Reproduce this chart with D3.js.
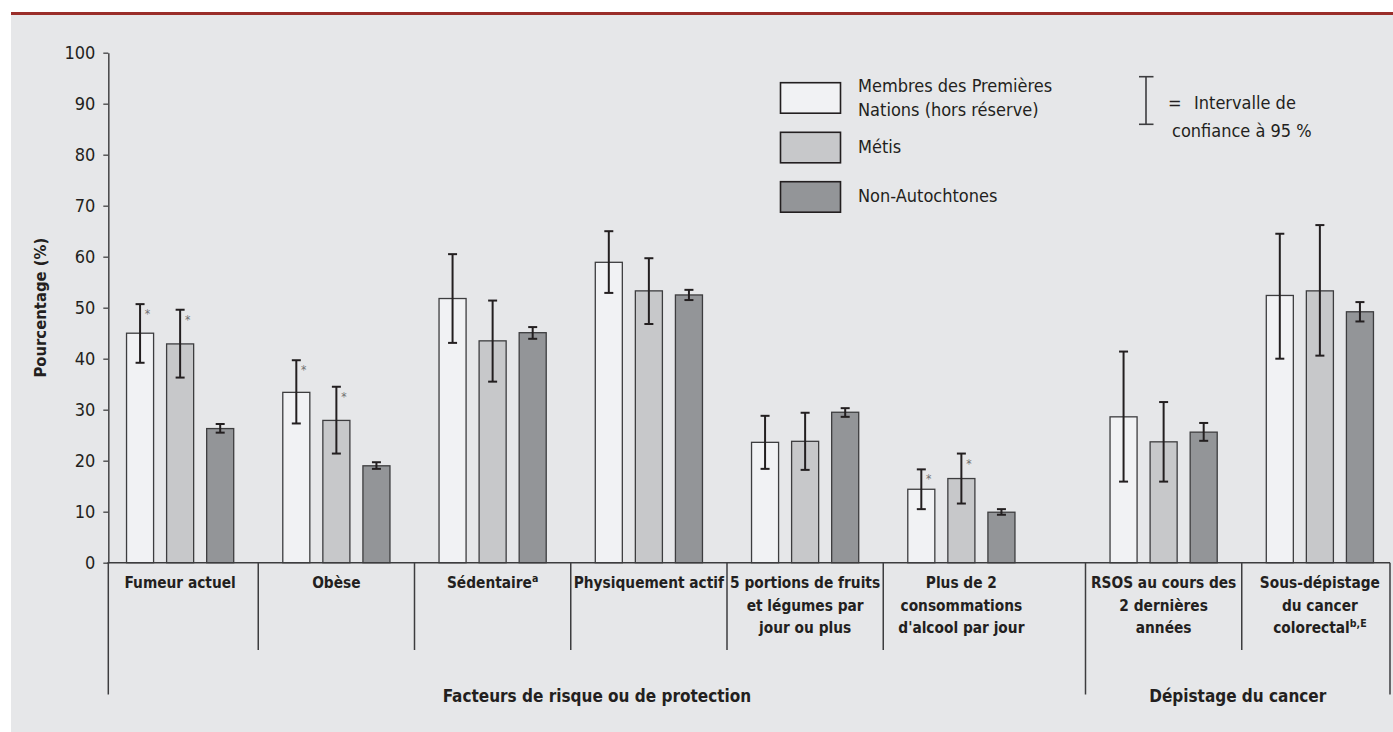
<!DOCTYPE html>
<html lang="fr">
<head>
<meta charset="utf-8">
<script src="https://cdn.jsdelivr.net/npm/d3@7"></script>
<style>
  html, body { margin: 0; padding: 0; background: #ffffff; }
  svg { display: block; }
  text { font-family: "DejaVu Sans Condensed", "DejaVu Sans", sans-serif; font-stretch: condensed; fill: #231f20; }
</style>
</head>
<body>
<svg id="chart" width="1393" height="732"></svg>
<script>
// ---- Data -------------------------------------------------------------
const categories = [
  "Fumeur actuel", "Obèse", "Sédentaire", "Physiquement actif",
  "5 portions de fruits et légumes par jour ou plus",
  "Plus de 2 consommations d'alcool par jour",
  "RSOS au cours des 2 dernières années",
  "Sous-dépistage du cancer colorectal"
];
const categoryLines = [
  ["Fumeur actuel"], ["Obèse"], ["Sédentaire"], ["Physiquement actif"],
  ["5 portions de fruits", "et légumes par", "jour ou plus"],
  ["Plus de 2", "consommations", "d'alcool par jour"],
  ["RSOS au cours des", "2 dernières", "années"],
  ["Sous-dépistage", "du cancer", "colorectal"]
];
const categoryNotes = ["", "", "a", "", "", "", "", "b,E"];
const categorySection = [0, 0, 0, 0, 0, 0, 1, 1];
const sections = ["Facteurs de risque ou de protection", "Dépistage du cancer"];

const seriesNames = ["Membres des Premières Nations (hors réserve)", "Métis", "Non-Autochtones"];
const seriesLegendLines = [["Membres des Premières", "Nations (hors réserve)"], ["Métis"], ["Non-Autochtones"]];

const firstNations     = [45.0, 33.4, 51.8, 58.9, 23.6, 14.4, 28.6, 52.4];
const firstNationsLow  = [39.2, 27.3, 43.1, 52.9, 18.4, 10.5, 15.9, 40.0];
const firstNationsHigh = [50.7, 39.7, 60.5, 65.0, 28.8, 18.3, 41.4, 64.5];
const firstNationsSig  = [true, true, false, false, false, true, false, false];

const metis     = [42.9, 27.9, 43.5, 53.3, 23.8, 16.5, 23.7, 53.3];
const metisLow  = [36.3, 21.4, 35.5, 46.8, 18.2, 11.6, 15.9, 40.6];
const metisHigh = [49.6, 34.5, 51.4, 59.7, 29.4, 21.4, 31.5, 66.2];
const metisSig  = [true, true, false, false, false, true, false, false];

const nonAboriginal     = [26.3, 19.0, 45.1, 52.5, 29.5, 9.9, 25.6, 49.2];
const nonAboriginalLow  = [25.5, 18.4, 43.9, 51.5, 28.6, 9.4, 23.9, 47.3];
const nonAboriginalHigh = [27.2, 19.7, 46.2, 53.5, 30.3, 10.5, 27.4, 51.1];
const nonAboriginalSig  = [false, false, false, false, false, false, false, false];

const yTicks = [0, 10, 20, 30, 40, 50, 60, 70, 80, 90, 100];

// ---- Table built from the arrays -------------------------------------
const seriesValues = [firstNations, metis, nonAboriginal];
const seriesLow = [firstNationsLow, metisLow, nonAboriginalLow];
const seriesHigh = [firstNationsHigh, metisHigh, nonAboriginalHigh];
const seriesSig = [firstNationsSig, metisSig, nonAboriginalSig];
const rows = [];
categories.forEach((c, i) => {
  seriesNames.forEach((s, j) => {
    rows.push({ cat: c, series: s, value: seriesValues[j][i],
                low: seriesLow[j][i], high: seriesHigh[j][i], sig: seriesSig[j][i] });
  });
});

// ---- Styling ---------------------------------------------------------
const fills = ["#f1f2f4", "#c7c8ca", "#939598"];
const ink = "#231f20";

const svg = d3.select("#chart");

// panel
svg.append("rect").attr("x", 11).attr("y", 15).attr("width", 1382).attr("height", 717).attr("fill", "#e6e7e9");
svg.append("line").attr("x1", 11).attr("x2", 1393).attr("y1", 13.5).attr("y2", 13.5)
  .attr("stroke", "#9a2e2a").attr("stroke-width", 3);

// ---- Scales ----------------------------------------------------------
const y = d3.scaleLinear().domain([0, 100]).range([562.7, 52.7]);
const x0 = d3.scaleBand().domain(categories).range([102, 1352]).paddingInner(0).paddingOuter(0);
const sectionShift = d3.scaleOrdinal().domain(sections).range([0, 46]);
const catX = c => x0(c) + sectionShift(sections[categorySection[categories.indexOf(c)]]);
const x1 = d3.scaleBand().domain(seriesNames).range([0, x0.bandwidth()]).paddingInner(0.325).paddingOuter(0.6125);
const color = d3.scaleOrdinal().domain(seriesNames).range(fills);

const axisX = 108.3;
const frameRight = catX(categories[categories.length - 1]) + x0.bandwidth() - 8;

// ---- Y axis ----------------------------------------------------------
const yAxis = svg.append("g").attr("transform", `translate(${axisX},0)`)
  .call(d3.axisLeft(y).tickValues(yTicks).tickSize(5).tickSizeOuter(0).tickPadding(8));
yAxis.select(".domain").attr("stroke", "#4d4d4f").attr("stroke-width", 1.6);
yAxis.selectAll(".tick line").attr("stroke", "#4d4d4f").attr("stroke-width", 1.4);
yAxis.selectAll(".tick text").attr("font-size", 18)
  .style("font-family", '"DejaVu Sans Condensed", "DejaVu Sans", sans-serif').attr("fill", ink);

svg.append("text")
  .attr("transform", `translate(46,${y(50)}) rotate(-90)`)
  .attr("text-anchor", "middle").attr("font-weight", "bold").attr("font-size", 16.5)
  .text("Pourcentage (%)");

// ---- Bars ------------------------------------------------------------
const barG = svg.append("g");
barG.selectAll("rect").data(rows).join("rect")
  .attr("x", d => catX(d.cat) + x1(d.series))
  .attr("y", d => y(d.value))
  .attr("width", x1.bandwidth())
  .attr("height", d => y(0) - y(d.value))
  .attr("fill", d => color(d.series))
  .attr("stroke", "#3d3d3f").attr("stroke-width", 1.3);

// ---- Error bars ------------------------------------------------------
const cap = 4.5;
const errG = svg.append("g").attr("stroke", ink).attr("stroke-width", 2);
const cx = d => catX(d.cat) + x1(d.series) + x1.bandwidth() / 2;
errG.selectAll(".v").data(rows).join("line").attr("class", "v")
  .attr("x1", cx).attr("x2", cx).attr("y1", d => y(d.high)).attr("y2", d => y(d.low));
errG.selectAll(".t").data(rows).join("line").attr("class", "t")
  .attr("x1", d => cx(d) - cap).attr("x2", d => cx(d) + cap).attr("y1", d => y(d.high)).attr("y2", d => y(d.high));
errG.selectAll(".b").data(rows).join("line").attr("class", "b")
  .attr("x1", d => cx(d) - cap).attr("x2", d => cx(d) + cap).attr("y1", d => y(d.low)).attr("y2", d => y(d.low));

// significance marks
svg.append("g").selectAll("text").data(rows.filter(d => d.sig)).join("text")
  .attr("x", d => cx(d) + 7.5).attr("y", d => y(d.high) + 14)
  .attr("text-anchor", "middle").attr("font-size", 12).style("fill", "#707070")
  .text("*");

// ---- Category frame --------------------------------------------------
const frame = svg.append("g").attr("stroke", "#3d3d3f").attr("stroke-width", 1.5);
frame.append("line").attr("x1", axisX - 0.8).attr("x2", frameRight).attr("y1", y(0)).attr("y2", y(0));
frame.append("line").attr("x1", axisX).attr("x2", axisX).attr("y1", y(0)).attr("y2", 694.5);
frame.append("line").attr("x1", frameRight).attr("x2", frameRight).attr("y1", y(0)).attr("y2", 694.5);
categories.forEach((c, i) => {
  if (i === 0) return;
  const newSection = categorySection[i] !== categorySection[i - 1];
  frame.append("line").attr("x1", catX(c)).attr("x2", catX(c))
    .attr("y1", y(0)).attr("y2", newSection ? 694.5 : 650);
});

// category labels
const labelG = svg.append("g").attr("font-weight", "bold").attr("font-size", 15.3).attr("text-anchor", "middle");
categories.forEach((c, i) => {
  const t = labelG.append("text").attr("x", catX(c) + x0.bandwidth() / 2).attr("y", 588);
  categoryLines[i].forEach((line, k) => {
    t.append("tspan").attr("x", catX(c) + x0.bandwidth() / 2).attr("dy", k === 0 ? 0 : 22.5).text(line);
    if (k === categoryLines[i].length - 1 && categoryNotes[i]) {
      t.append("tspan").attr("font-size", 10.5).attr("dy", -6).text(categoryNotes[i]);
    }
  });
});

// section labels
sections.forEach((s, si) => {
  const members = categories.filter((c, i) => categorySection[i] === si);
  const left = si === 0 ? axisX : catX(members[0]);
  const right = si === sections.length - 1 ? frameRight
    : catX(categories[categorySection.indexOf(si + 1)]);
  svg.append("text").attr("x", (left + right) / 2).attr("y", 702)
    .attr("text-anchor", "middle").attr("font-weight", "bold").attr("font-size", 17).text(s);
});

// ---- Legend ----------------------------------------------------------
const legendTop = [82.7, 132.3, 181.7];
const legend = svg.append("g");
seriesNames.forEach((s, j) => {
  legend.append("rect").attr("x", 780.5).attr("y", legendTop[j]).attr("width", 60).attr("height", 30.5)
    .attr("fill", color(s)).attr("stroke", ink).attr("stroke-width", 1.6);
});
const legendBaselines = [[92.3, 116], [153.3], [201.7]];
seriesLegendLines.forEach((lines, j) => {
  lines.forEach((line, k) => {
    legend.append("text").attr("x", 858).attr("y", legendBaselines[j][k]).attr("font-size", 18).text(line);
  });
});

// confidence-interval key
const ci = svg.append("g").attr("stroke", "#3d3d3f").attr("stroke-width", 1.6);
ci.append("line").attr("x1", 1146).attr("x2", 1146).attr("y1", 76.7).attr("y2", 124.3);
ci.append("line").attr("x1", 1139).attr("x2", 1153.5).attr("y1", 76.7).attr("y2", 76.7);
ci.append("line").attr("x1", 1139).attr("x2", 1153.5).attr("y1", 124.3).attr("y2", 124.3);
svg.append("text").attr("x", 1168).attr("y", 109).attr("font-size", 18).text("=");
svg.append("text").attr("x", 1194).attr("y", 109).attr("font-size", 18).text("Intervalle de");
svg.append("text").attr("x", 1172).attr("y", 137.3).attr("font-size", 18).text("confiance à 95 %");
</script>
</body>
</html>
